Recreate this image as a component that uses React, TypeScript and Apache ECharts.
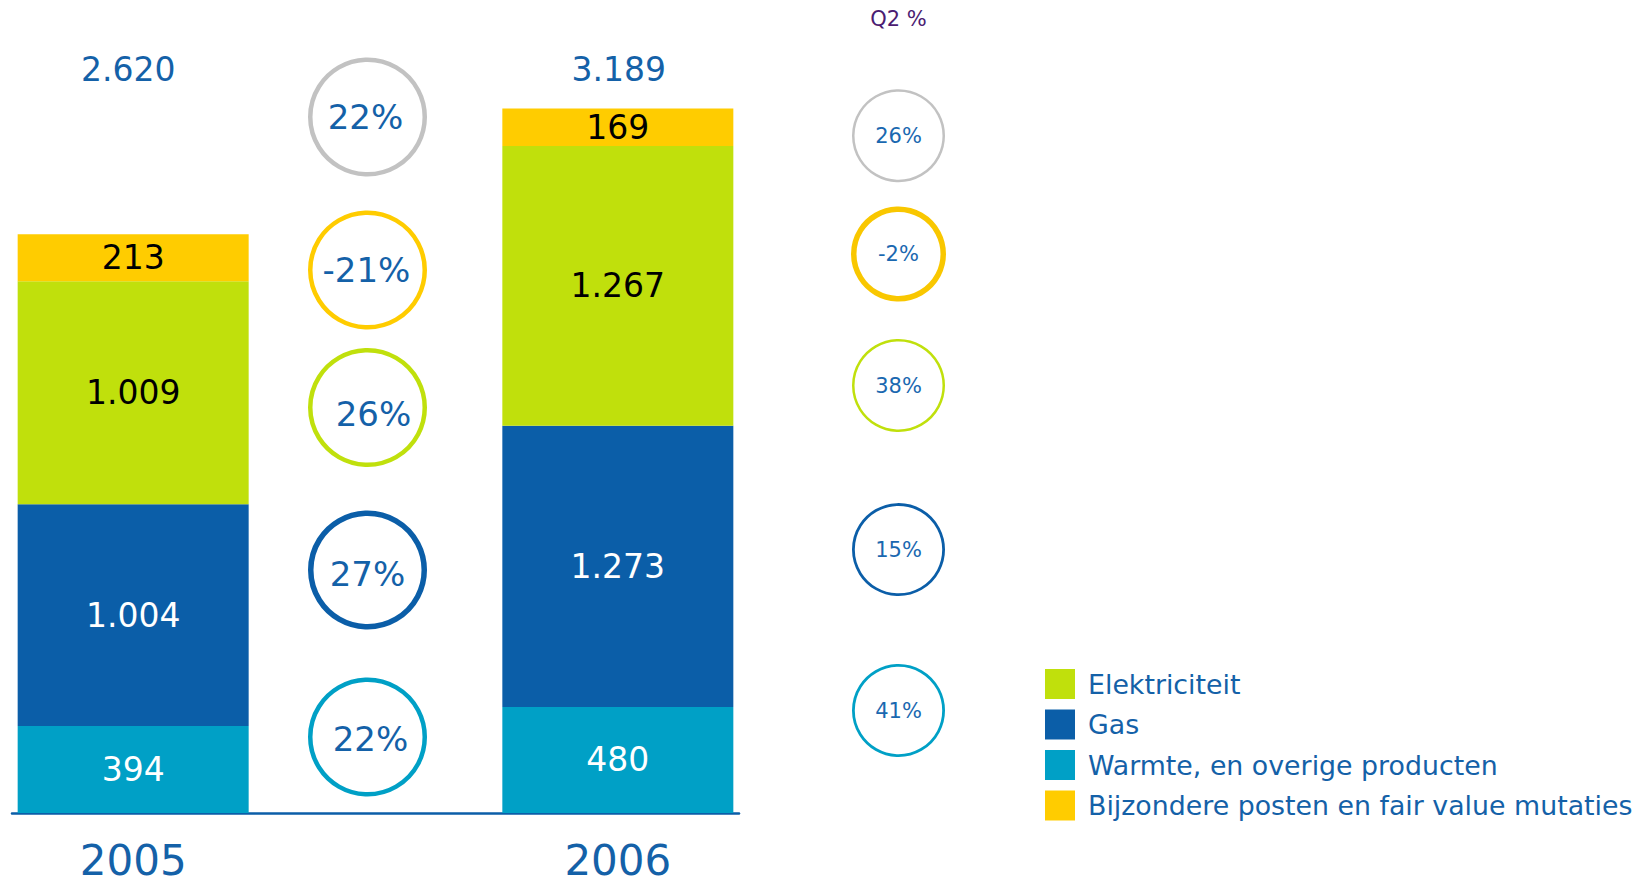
import React, { useEffect, useRef } from "react";
import * as echarts from "echarts";

const categories = ["2005", "", "2006"];
const warmte = [394, "-", 480];
const gas = [1004, "-", 1273];
const elektriciteit = [1009, "-", 1267];
const bijzondere = [213, "-", 169];
const seriesNames = [
  "Warmte, en overige producten",
  "Gas",
  "Elektriciteit",
  "Bijzondere posten en fair value mutaties",
];
const legendOrder = [
  "Elektriciteit",
  "Gas",
  "Warmte, en overige producten",
  "Bijzondere posten en fair value mutaties",
];
// growth 2006 vs 2005: total, bijzondere, elektriciteit, gas, warmte
const growthYear = ["22%", "-21%", "26%", "27%", "22%"];
const growthQ2 = ["26%", "-2%", "38%", "15%", "41%"];

const FONT = "DejaVu Sans";
const C_YELLOW = "#FFCC00";
const C_GREEN = "#C0E00C";
const C_BLUE = "#0B5EA8";
const C_CYAN = "#00A0C6";
const C_GRAY = "#C2C2C2";
const C_TEXT = "#1461A8";

const fmt = (v: number) => {
  const s = String(Math.round(v));
  return s.replace(/\B(?=(\d{3})+(?!\d))/g, ".");
};

export default function App() {
  const ref = useRef<HTMLDivElement>(null);
  useEffect(() => {
    document.body.style.margin = "0";
    const chart = echarts.init(ref.current!, null, { renderer: "svg" });
    const mk = (name: string, data: any[], color: string, labelColor: string) => ({
      name,
      type: "bar",
      stack: "total",
      data,
      barWidth: 231,
      itemStyle: { color },
      label: {
        show: true,
        position: "inside",
        formatter: (p: any) => fmt(p.value),
        color: labelColor,
        fontSize: 33,
        fontFamily: FONT,
      },
    });
    const option: any = {
      animation: false,
      grid: { left: 12, right: 911, top: 62, bottom: 73 },
      xAxis: {
        type: "category",
        data: categories,
        axisLine: { lineStyle: { color: C_BLUE, width: 2.5 } },
        axisTick: { show: false },
        axisLabel: { fontSize: 42, lineHeight: 30, color: C_TEXT, fontFamily: FONT, margin: 32 },
      },
      yAxis: { type: "value", min: 0, max: 3400, show: false, splitLine: { show: false } },
      legend: {
        data: legendOrder,
        orient: "vertical",
        left: 1040,
        top: 664,
        icon: "rect",
        itemWidth: 30,
        itemHeight: 30,
        itemGap: 10.5,
        selectedMode: false,
        textStyle: { fontSize: 26.8, color: C_TEXT, fontFamily: FONT, lineHeight: 30, padding: [0, 0, 0, 8] },
      },
      series: [
        mk(seriesNames[0], warmte, C_CYAN, "#ffffff"),
        mk(seriesNames[1], gas, C_BLUE, "#ffffff"),
        mk(seriesNames[2], elektriciteit, C_GREEN, "#000000"),
        mk(seriesNames[3], bijzondere, C_YELLOW, "#000000"),
      ],
    };
    chart.setOption(option);

    const totals = [0, 2].map(
      (i) => (warmte[i] as number) + (gas[i] as number) + (elektriciteit[i] as number) + (bijzondere[i] as number)
    );
    const xs = [0, 2].map((i) => chart.convertToPixel({ xAxisIndex: 0 }, i) as number);

    const leftCircles = [
      { cy: 117, color: C_GRAY, lw: 4.5, tdx: -2, tdy: 0 },
      { cy: 270, color: C_YELLOW, lw: 4.5, tdx: -1, tdy: 0 },
      { cy: 407.5, color: C_GREEN, lw: 4.5, tdx: 6, tdy: 6 },
      { cy: 570, color: C_BLUE, lw: 5.5, tdx: 0, tdy: 4 },
      { cy: 737, color: C_CYAN, lw: 4.5, tdx: 3, tdy: 2 },
    ];
    const rightCircles = [
      { cy: 135.7, color: C_GRAY, lw: 2.5 },
      { cy: 254, color: "#F9C700", lw: 5.5 },
      { cy: 385.5, color: C_GREEN, lw: 2.5 },
      { cy: 549.6, color: C_BLUE, lw: 2.8 },
      { cy: 710.5, color: C_CYAN, lw: 2.8 },
    ];
    const graphic: any[] = [];
    totals.forEach((t, k) => {
      graphic.push({
        type: "text",
        x: xs[k] - (k === 0 ? 5 : -1),
        y: 69.5,
        style: { text: fmt(t), fontSize: 33, fill: C_TEXT, fontFamily: FONT, align: "center", verticalAlign: "middle" },
      });
    });
    leftCircles.forEach((c, k) => {
      graphic.push({
        type: "circle",
        shape: { cx: 367.5, cy: c.cy, r: 59.5 - c.lw / 2 },
        style: { fill: "none", stroke: c.color, lineWidth: c.lw },
      });
      graphic.push({
        type: "text",
        x: 367.5 + c.tdx,
        y: c.cy + c.tdy,
        style: { text: growthYear[k], fontSize: 34, fill: C_TEXT, fontFamily: FONT, align: "center", verticalAlign: "middle" },
      });
    });
    graphic.push({
      type: "text",
      x: 898.5,
      y: 18.5,
      style: { text: "Q2 %", fontSize: 21, fill: "#4B1C72", fontFamily: FONT, align: "center", verticalAlign: "middle" },
    });
    rightCircles.forEach((c, k) => {
      graphic.push({
        type: "circle",
        shape: { cx: 898.5, cy: c.cy, r: (k === 1 ? 47.5 : 46.5) - c.lw / 2 },
        style: { fill: "none", stroke: c.color, lineWidth: c.lw },
      });
      graphic.push({
        type: "text",
        x: 898.5,
        y: c.cy,
        style: { text: growthQ2[k], fontSize: 21, fill: "#1A68B0", fontFamily: FONT, align: "center", verticalAlign: "middle" },
      });
    });
    chart.setOption({ graphic });
    return () => chart.dispose();
  }, []);
  return <div ref={ref} style={{ position: "absolute", left: 0, top: 0, width: 1650, height: 886 }} />;
}
